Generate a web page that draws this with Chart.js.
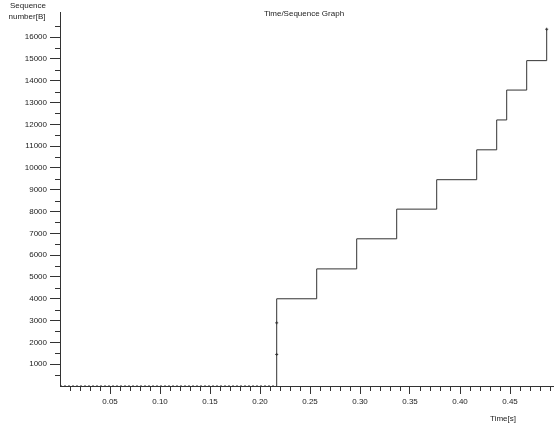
<!DOCTYPE html>
<html lang="en">
<head>
    <meta charset="UTF-8">
    <title>Time/Sequence Graph</title>
    <script src="https://cdn.jsdelivr.net/npm/chart.js@4/dist/chart.umd.min.js"></script>
    <style>
        body { margin: 0; background: #fff; }
    </style>
</head>
<body>
<canvas id="tsg" width="554" height="427"></canvas>

<script>
    // step corners of the sequence graph
    const times = [0, 0.2167, 0.2167, 0.2167, 0.2167, 0.2567, 0.2967, 0.3367, 0.3767, 0.4167, 0.4367, 0.4467, 0.4667, 0.4867];
    const seqNums = [0, 0, 1448, 2896, 4000, 5370, 6750, 8110, 9460, 10830, 12200, 13570, 14920, 16360];
    // little marks drawn on the line
    const markTimes = [0.2167, 0.2167, 0.4867];
    const markSeq = [1448, 2896, 16360];
    // labelled ticks
    const xTicks = [0.05, 0.10, 0.15, 0.20, 0.25, 0.30, 0.35, 0.40, 0.45];
    const yTicks = [1000, 2000, 3000, 4000, 5000, 6000, 7000, 8000, 9000, 10000, 11000, 12000, 13000, 14000, 15000, 16000];

    const xMax = 0.494;
    const yMax = 17150;
    const ink = '#333';
    const font = {family: 'Liberation Sans, Arial, sans-serif', size: 8};

    const minorTicks = {
        id: 'minorTicks',
        afterDraw(chart) {
            const ctx = chart.ctx;
            const xs = chart.scales.x, ys = chart.scales.y;
            ctx.save();
            ctx.strokeStyle = ink;
            ctx.lineWidth = 1;
            ctx.beginPath();
            for (let v = 500; v < yMax; v += 1000) {
                const py = Math.round(ys.getPixelForValue(v)) + 0.5;
                ctx.moveTo(xs.left - 5, py);
                ctx.lineTo(xs.left, py);
            }
            for (let i = 1; i / 100 < xMax; i++) {
                if (i % 5 === 0) continue;
                const px = Math.round(xs.getPixelForValue(i / 100)) + 0.5;
                ctx.moveTo(px, ys.bottom);
                ctx.lineTo(px, ys.bottom + 5);
            }
            ctx.stroke();

            ctx.fillStyle = '#222';
            ctx.font = '8px Liberation Sans, Arial, sans-serif';
            ctx.textAlign = 'center';
            ctx.textBaseline = 'middle';
            ctx.fillText('Sequence', 28, 6);
            ctx.fillText('number[B]', 27, 17);
            ctx.fillText('Time/Sequence Graph', 304, 14);
            ctx.fillText('Time[s]', 503, 419);
            ctx.restore();
        }
    };

    const points = times.map((t, i) => ({x: t, y: seqNums[i]}));
    const marks = markTimes.map((t, i) => ({x: t, y: markSeq[i]}));

    new Chart('tsg', {
        type: 'scatter',
        data: {
            datasets: [{
                data: points,
                showLine: true,
                stepped: 'before',
                borderColor: ink,
                borderWidth: 1,
                pointRadius: 0,
                clip: 4,
                segment: {
                    borderDash: c => (c.p0.parsed.y === 0 && c.p1.parsed.y === 0) ? [2, 2] : undefined
                }
            }, {
                data: marks,
                showLine: false,
                pointStyle: 'cross',
                pointRadius: 1.5,
                pointBorderWidth: 1,
                borderColor: ink,
                backgroundColor: ink,
                clip: 4
            }]
        },
        options: {
            responsive: false,
            animation: false,
            events: [],
            layout: {autoPadding: false, padding: {top: 12, right: 0, left: 0, bottom: 0}},
            plugins: {
                legend: {display: false},
                tooltip: {enabled: false}
            },
            scales: {
                x: {
                    type: 'linear',
                    min: 0,
                    max: xMax,
                    border: {color: ink, width: 1},
                    grid: {drawOnChartArea: false, drawTicks: true, tickLength: 8, color: ink},
                    ticks: {
                        maxRotation: 0,
                        autoSkip: false,
                        padding: 3,
                        color: '#222',
                        font: font,
                        callback: v => v.toFixed(2)
                    },
                    afterBuildTicks: s => { s.ticks = xTicks.map(v => ({value: v})); },
                    afterFit: s => { s.height = 41; s.paddingLeft = 0; s.paddingRight = 0; }
                },
                y: {
                    type: 'linear',
                    min: 0,
                    max: yMax,
                    border: {color: ink, width: 1},
                    grid: {drawOnChartArea: false, drawTicks: true, tickLength: 10, color: ink},
                    ticks: {
                        autoSkip: false,
                        padding: 3,
                        color: '#222',
                        font: font,
                        callback: v => String(v)
                    },
                    afterBuildTicks: s => { s.ticks = yTicks.map(v => ({value: v})); },
                    afterFit: s => { s.width = 60; s.paddingTop = 0; s.paddingBottom = 0; }
                }
            }
        },
        plugins: [minorTicks]
    });
</script>
</body>
</html>
